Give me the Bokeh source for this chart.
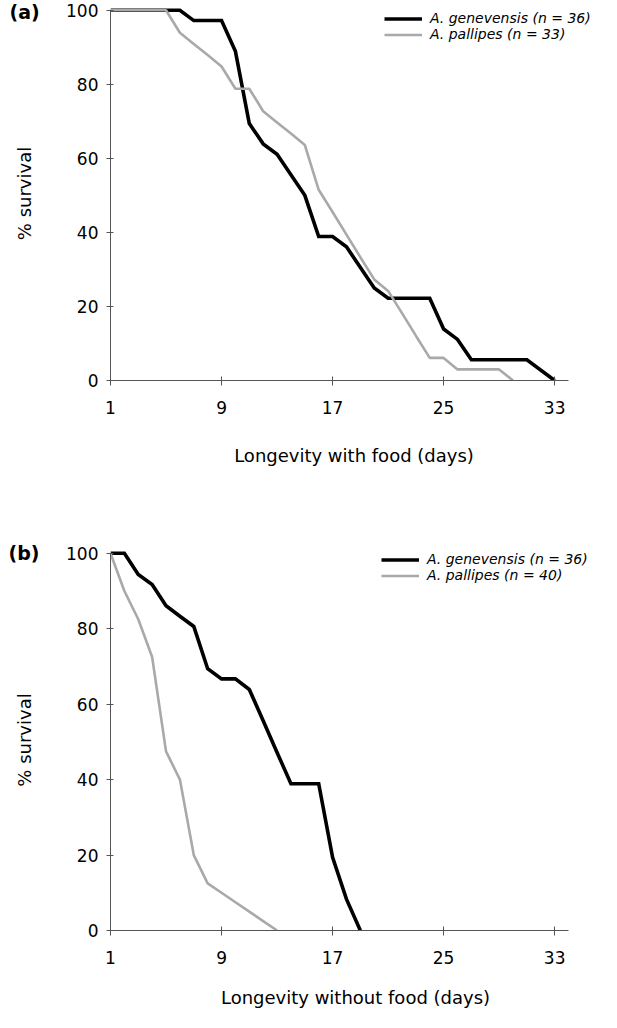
from bokeh.plotting import figure
from bokeh.layouts import column
from bokeh.models import Range1d, FixedTicker, Legend, LegendItem, Title
from bokeh.embed import file_html
from bokeh.resources import INLINE

# ---------------- data ----------------
x_ticks = [1, 9, 17, 25, 33]
y_ticks = [0, 20, 40, 60, 80, 100]

# (a) longevity with food
gen_days_a = [1, 6, 7, 9, 10, 11, 12, 13, 15, 16, 17, 18, 20, 21, 24, 25, 26, 27, 31, 33]
gen_surv_a = [100, 100, 97.2, 97.2, 88.9, 69.4, 63.9, 61.1, 50.0, 38.9, 38.9, 36.1,
              25.0, 22.2, 22.2, 13.9, 11.1, 5.6, 5.6, 0]
pal_days_a = [1, 5, 6, 7, 8, 9, 10, 11, 12, 13, 14, 15, 16, 17, 18, 19, 20, 21, 22,
              23, 24, 25, 26, 29, 30]
pal_surv_a = [100, 100, 93.9, 90.9, 87.9, 84.8, 78.8, 78.8, 72.7, 69.7, 66.7, 63.6,
              51.5, 45.5, 39.4, 33.3, 27.3, 24.2, 18.2, 12.1, 6.1, 6.1, 3.0, 3.0, 0]

# (b) longevity without food
gen_days_b = [1, 2, 3, 4, 5, 6, 7, 8, 9, 10, 11, 12, 13, 14, 15, 16, 17, 18, 19]
gen_surv_b = [100, 100, 94.4, 91.7, 86.1, 83.3, 80.6, 69.4, 66.7, 66.7, 63.9, 55.6,
              47.2, 38.9, 38.9, 38.9, 19.4, 8.3, 0]
pal_days_b = [1, 2, 3, 4, 5, 6, 7, 8, 9, 10, 11, 12, 13]
pal_surv_b = [100, 90.0, 82.5, 72.5, 47.5, 40.0, 20.0, 12.5, 10.0, 7.5, 5.0, 2.5, 0]

gen_label = "A. genevensis (n = 36)"
pal_label_a = "A. pallipes (n = 33)"
pal_label_b = "A. pallipes (n = 40)"
xlabel_a = "Longevity with food (days)"
xlabel_b = "Longevity without food (days)"
ylabel = "% survival"

FONT = "DejaVu Sans"
BLACK = "#000000"
GREY = "#a9a9a9"
AXIS = "#555555"
DAYS_PX = 13.88


def make_panel(tag, tag_offset, tag_standoff, xlabel, gd, gs, pd_, ps, pal_label,
               border_left, frame_h, border_top, border_bottom, legend_xy,
               xlabel_standoff):
    frame_w = 601 - border_left - 4
    x_end = 1 + frame_w / DAYS_PX
    p = figure(frame_width=frame_w, frame_height=frame_h,
               x_range=Range1d(1, x_end), y_range=Range1d(0, 101),
               output_backend="svg", toolbar_location=None,
               min_border_left=border_left, min_border_right=4,
               min_border_top=border_top, min_border_bottom=border_bottom)
    p.outline_line_color = None
    p.xgrid.visible = False
    p.ygrid.visible = False
    p.background_fill_color = "white"
    p.border_fill_color = "white"

    # panel tag, e.g. "(a)", level with the top tick label
    p.title = Title(text=tag, align="left", offset=tag_offset, standoff=tag_standoff,
                    text_font=FONT, text_font_size="19px", text_font_style="bold",
                    text_color="black")

    r_gen = p.line(gd, gs, line_color=BLACK, line_width=3.6, line_join="miter")
    r_pal = p.line(pd_, ps, line_color=GREY, line_width=2.6)

    for ax in (p.xaxis[0], p.yaxis[0]):
        ax.axis_line_color = AXIS
        ax.axis_line_width = 1
        ax.major_tick_line_color = AXIS
        ax.minor_tick_line_color = None
        ax.major_label_text_font = FONT
        ax.major_label_text_font_size = "17px"
        ax.major_label_text_color = "black"
        ax.axis_label_text_font = FONT
        ax.axis_label_text_font_size = "18px"
        ax.axis_label_text_font_style = "normal"
        ax.axis_label_text_color = "black"

    xa = p.xaxis[0]
    xa.ticker = FixedTicker(ticks=x_ticks)
    xa.bounds = (1, 34)
    xa.major_tick_in = 4
    xa.major_tick_out = 5
    xa.major_label_standoff = 15
    xa.axis_label = xlabel
    xa.axis_label_standoff = xlabel_standoff

    ya = p.yaxis[0]
    ya.ticker = FixedTicker(ticks=y_ticks)
    ya.bounds = (0, 100)
    ya.major_tick_in = 3
    ya.major_tick_out = 4
    ya.major_label_standoff = 8
    ya.axis_label = ylabel
    ya.axis_label_standoff = 28

    legend = Legend(items=[LegendItem(label=gen_label, renderers=[r_gen]),
                           LegendItem(label=pal_label, renderers=[r_pal])],
                    location=legend_xy, glyph_width=38, glyph_height=15,
                    label_height=15, label_standoff=8, spacing=0, padding=0,
                    margin=0, border_line_color=None, background_fill_alpha=0,
                    label_text_font=FONT, label_text_font_size="14px",
                    label_text_font_style="italic", label_text_color="black")
    p.add_layout(legend)
    return p


pa = make_panel("(a)", -101, -33, xlabel_a, gen_days_a, gen_surv_a, pal_days_a,
                pal_surv_a, pal_label_a, border_left=110, frame_h=374, border_top=6,
                border_bottom=89, legend_xy=(274, 338), xlabel_standoff=28)
pb = make_panel("(b)", -102, -29, xlabel_b, gen_days_b, gen_surv_b, pal_days_b,
                pal_surv_b, pal_label_b, border_left=107, frame_h=381, border_top=80,
                border_bottom=82, legend_xy=(271, 347), xlabel_standoff=20)

layout = column(pa, pb, spacing=0)
open("out.html", "w").write(file_html(layout, INLINE))
